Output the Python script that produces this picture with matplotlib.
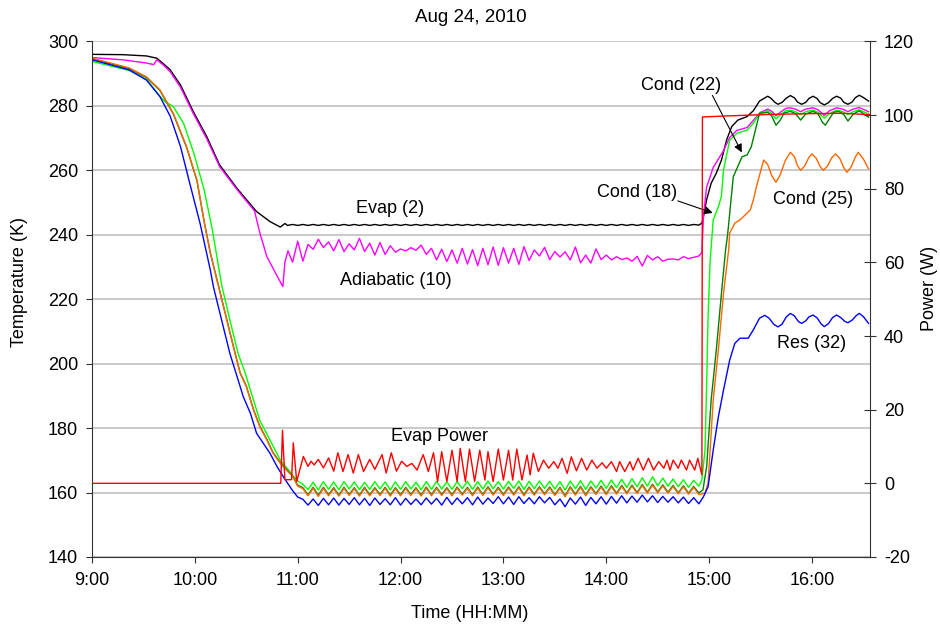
import matplotlib
matplotlib.use('Agg')
import matplotlib.pyplot as plt

plt.rcParams['font.family'] = ['Liberation Sans', 'DejaVu Sans']
plt.rcParams['axes.unicode_minus'] = False

# time in decimal hours, temperatures in K, power in W
plateau_t = [
    10.95, 11.00, 11.05, 11.10, 11.15, 11.20, 11.25, 11.30, 11.35, 11.40,
    11.45, 11.50, 11.55, 11.60, 11.65, 11.70, 11.75, 11.80, 11.85, 11.90,
    11.95, 12.00, 12.05, 12.10, 12.15, 12.20, 12.25, 12.30, 12.35, 12.40,
    12.45, 12.50, 12.55, 12.60, 12.65, 12.70, 12.75, 12.80, 12.85, 12.90,
    12.95, 13.00, 13.05, 13.10, 13.15, 13.20, 13.25, 13.30, 13.35, 13.40,
    13.45, 13.50, 13.55, 13.60, 13.65, 13.70, 13.75, 13.80, 13.85, 13.90,
    13.95, 14.00, 14.05, 14.10, 14.15, 14.20, 14.25, 14.30, 14.35, 14.40,
    14.45, 14.50, 14.55, 14.60, 14.65, 14.70, 14.75, 14.80, 14.85, 14.90]

# Evap (2)
evap_t_pre = [9.00, 9.30, 9.53, 9.63, 9.69, 9.76, 9.86, 9.985, 10.115, 10.24,
              10.41, 10.60, 10.73, 10.83, 10.876, 10.90]
evap_pre = [296.0, 295.9, 295.5, 294.8, 293.2, 291.2, 286.5, 278.2, 270.5, 261.7,
            254.4, 247.2, 244.1, 242.4, 243.5, 242.9]
evap_mid = [
    243.2, 242.9, 243.2, 242.9, 243.2, 242.9, 243.2, 242.9, 243.2, 242.9,
    243.2, 242.9, 243.2, 242.9, 243.2, 242.9, 243.2, 242.9, 243.2, 242.9,
    243.2, 242.9, 243.2, 242.9, 243.2, 242.9, 243.2, 242.9, 243.2, 242.9,
    243.2, 242.9, 243.2, 242.9, 243.2, 242.9, 243.2, 242.9, 243.2, 242.9,
    243.2, 242.9, 243.2, 242.9, 243.2, 242.9, 243.2, 242.9, 243.2, 242.9,
    243.2, 242.9, 243.2, 242.9, 243.2, 242.9, 243.2, 242.9, 243.2, 242.9,
    243.2, 242.9, 243.2, 242.9, 243.2, 242.9, 243.2, 242.9, 243.2, 242.9,
    243.2, 242.9, 243.2, 242.9, 243.2, 242.9, 243.2, 242.9, 243.2, 243.0]
evap_t_post = [14.93, 14.945, 14.975, 15.02, 15.07, 15.12, 15.17, 15.22, 15.28, 15.37,
               15.43, 15.49, 15.57, 15.60, 15.64, 15.67, 15.71, 15.75, 15.79, 15.83,
               15.86, 15.90, 15.94, 15.97, 16.01, 16.05, 16.08, 16.12, 16.16, 16.20,
               16.24, 16.28, 16.31, 16.35, 16.39, 16.42, 16.46, 16.50, 16.55]
evap_post = [243.6, 245.6, 250.8, 256.0, 259.1, 263.2, 269.4, 273.6, 275.6, 276.7,
             278.5, 281.5, 283.0, 282.4, 281.1, 280.5, 281.1, 282.4, 283.2, 282.5,
             281.2, 280.5, 281.1, 282.3, 283.0, 282.3, 281.0, 280.3, 281.0, 282.3,
             283.0, 282.4, 281.1, 280.5, 281.2, 282.5, 283.3, 282.6, 281.5]

# Adiabatic (10)
adia_t_pre = [9.00, 9.30, 9.53, 9.60, 9.63, 9.69, 9.76, 9.86, 9.985, 10.115,
              10.24, 10.41, 10.58, 10.63, 10.70, 10.855, 10.876, 10.905]
adia_pre = [295.0, 294.3, 293.3, 292.8, 294.3, 292.8, 290.6, 285.8, 277.6, 269.8,
            261.2, 254.0, 247.4, 240.8, 233.2, 223.9, 231.6, 235.0]
adia_mid = [
    231.5, 238.0, 231.8, 237.0, 235.5, 238.6, 236.0, 237.8, 235.0, 238.5,
    234.8, 237.2, 235.3, 238.9, 234.8, 237.4, 233.7, 237.6, 233.9, 236.6,
    234.6, 235.6, 235.0, 236.0, 235.2, 236.8, 233.9, 235.8, 232.2, 235.5,
    231.7, 235.3, 231.2, 235.8, 230.9, 235.4, 230.4, 235.8, 230.7, 236.2,
    230.5, 236.0, 231.2, 235.8, 230.8, 236.3, 232.0, 235.3, 233.4, 236.1,
    232.3, 234.8, 233.1, 234.7, 232.2, 236.2, 231.3, 233.7, 231.2, 235.6,
    232.3, 233.7, 232.2, 233.2, 232.3, 232.8, 231.8, 233.3, 230.3, 233.6,
    232.2, 233.2, 231.8, 232.4, 232.5, 232.2, 233.2, 232.6, 233.0, 233.4]
adia_t_post = [14.93, 14.945, 14.975, 15.04, 15.14, 15.20, 15.27, 15.37, 15.43, 15.50,
               15.57, 15.61, 15.65, 15.70, 15.75, 15.79, 15.84, 15.89, 15.94, 16.01,
               16.06, 16.12, 16.17, 16.24, 16.30, 16.35, 16.40, 16.46, 16.55]
adia_post = [234.5, 245.6, 254.7, 260.9, 266.1, 270.2, 272.4, 273.3, 275.5, 278.0,
             279.0, 278.3, 276.9, 278.2, 279.3, 279.4, 279.0, 278.2, 279.0, 279.4,
             278.8, 277.0, 278.5, 279.4, 279.0, 278.2, 279.0, 279.5, 278.2]

# Cond (18)
c18_t_pre = [9.00, 9.36, 9.53, 9.66, 9.71, 9.79, 9.89, 9.99, 10.09, 10.17,
             10.26, 10.34, 10.42, 10.49, 10.55, 10.63, 10.73, 10.83, 10.92]
c18_pre = [293.8, 291.0, 288.3, 283.0, 281.3, 279.8, 274.6, 265.3, 254.0, 241.5,
           224.5, 213.6, 203.2, 197.0, 190.8, 182.5, 176.3, 170.1, 166.6]
c18_mid = [
    165.3, 163.6, 162.6, 160.9, 163.2, 160.8, 163.4, 161.0, 163.3, 160.9,
    163.4, 161.1, 163.3, 160.9, 163.2, 161.0, 163.4, 161.1, 163.3, 160.8,
    163.3, 161.0, 163.4, 161.1, 163.2, 160.9, 163.4, 161.0, 163.5, 161.1,
    163.3, 161.0, 163.4, 161.2, 163.5, 161.0, 163.4, 161.1, 163.6, 161.2,
    163.4, 161.1, 163.5, 161.3, 163.6, 161.0, 163.5, 161.2, 163.6, 161.3,
    163.5, 161.1, 163.4, 160.8, 163.6, 161.2, 163.7, 161.0, 163.6, 161.4,
    163.8, 161.3, 163.9, 161.5, 164.1, 161.6, 164.3, 161.8, 164.6, 162.0,
    164.9, 162.1, 164.5, 162.0, 164.2, 161.8, 164.0, 161.6, 163.8, 162.0]
c18_t_post = [14.93, 14.96, 14.976, 14.99, 15.01, 15.04, 15.09, 15.12, 15.14, 15.20,
              15.27, 15.37, 15.43, 15.49, 15.57, 15.61, 15.65, 15.70, 15.75, 15.79,
              15.84, 15.89, 15.94, 16.01, 16.06, 16.12, 16.17, 16.24, 16.30, 16.35,
              16.40, 16.46, 16.55]
c18_post = [163.9, 173.2, 193.9, 214.6, 232.0, 244.6, 248.7, 252.0, 260.1, 269.4,
            271.5, 272.5, 274.6, 277.7, 278.5, 277.6, 276.0, 277.4, 278.6, 278.7,
            278.2, 277.3, 278.2, 278.7, 278.0, 276.2, 277.6, 278.7, 278.2, 277.3,
            278.2, 278.8, 277.5]

# Cond (22) and Cond (25) share the descent times
c2x_t_pre = [9.00, 9.36, 9.53, 9.66, 9.79, 9.92, 10.02, 10.09, 10.15, 10.23,
             10.31, 10.39, 10.44, 10.50, 10.57, 10.63, 10.70, 10.76, 10.83, 10.89]
c22_pre = [294.6, 291.6, 288.8, 284.8, 277.5, 267.1, 256.8, 244.2, 234.5, 224.1,
           213.8, 203.4, 197.2, 193.1, 185.8, 180.7, 176.5, 172.4, 169.3, 167.2]
c22_mid = [
    165.2, 162.3, 161.5, 159.3, 161.6, 159.2, 161.6, 159.3, 161.5, 159.2,
    161.6, 159.4, 161.5, 159.2, 161.6, 159.3, 161.5, 159.4, 161.6, 159.2,
    161.5, 159.3, 161.6, 159.4, 161.5, 159.2, 161.7, 159.3, 161.6, 159.4,
    161.5, 159.3, 161.7, 159.5, 161.6, 159.3, 161.7, 159.4, 161.8, 159.5,
    161.6, 159.4, 161.7, 159.5, 161.8, 159.3, 161.7, 159.5, 161.8, 159.6,
    161.7, 159.4, 161.6, 159.0, 161.8, 159.5, 161.9, 159.3, 161.8, 159.7,
    162.0, 159.6, 162.1, 159.8, 162.2, 159.9, 162.3, 160.0, 162.5, 160.1,
    162.6, 160.2, 162.4, 160.1, 162.2, 159.9, 162.1, 159.8, 161.9, 159.9]
c22_t_post = [14.94, 14.976, 15.02, 15.07, 15.12, 15.16, 15.18, 15.235, 15.32, 15.37,
              15.41, 15.45, 15.49, 15.57, 15.61, 15.65, 15.69, 15.73, 15.79, 15.84,
              15.89, 15.94, 16.01, 16.06, 16.10, 16.13, 16.17, 16.21, 16.26, 16.31,
              16.35, 16.40, 16.46, 16.55]
c22_post = [160.8, 168.0, 188.7, 204.3, 221.8, 235.3, 240.0, 258.0, 264.2, 264.8,
            267.3, 272.5, 277.7, 278.0, 276.8, 274.0, 275.5, 277.8, 278.3, 277.6,
            275.6, 277.5, 278.3, 277.5, 275.0, 274.0, 276.0, 278.0, 278.3, 277.3,
            275.3, 277.4, 278.5, 276.5]

c25_pre = [294.8, 291.8, 289.0, 285.0, 277.7, 267.3, 257.0, 244.0, 234.3, 223.9,
           213.6, 203.2, 197.0, 192.9, 185.6, 180.5, 176.3, 172.2, 169.1, 167.0]
c25_mid = [
    165.0, 162.0, 161.2, 159.0, 161.3, 158.8, 161.3, 159.0, 161.2, 158.9,
    161.3, 159.1, 161.2, 158.9, 161.3, 159.0, 161.2, 159.1, 161.3, 158.9,
    161.2, 159.0, 161.3, 159.1, 161.2, 158.9, 161.4, 159.0, 161.3, 159.1,
    161.2, 159.0, 161.4, 159.2, 161.3, 159.0, 161.4, 159.1, 161.5, 159.2,
    161.3, 159.1, 161.4, 159.2, 161.5, 159.0, 161.4, 159.2, 161.5, 159.3,
    161.4, 159.1, 161.3, 158.7, 161.5, 159.2, 161.6, 159.0, 161.5, 159.4,
    161.7, 159.3, 161.8, 159.5, 161.9, 159.6, 162.0, 159.7, 162.2, 159.8,
    162.3, 159.9, 162.1, 159.8, 161.9, 159.6, 161.8, 159.5, 161.6, 159.4]
c25_t_post = [14.96, 14.99, 15.01, 15.04, 15.09, 15.14, 15.19, 15.20, 15.25, 15.30,
              15.40, 15.43, 15.46, 15.53, 15.57, 15.61, 15.65, 15.69, 15.74, 15.79,
              15.83, 15.86, 15.89, 15.93, 15.97, 16.00, 16.04, 16.08, 16.11, 16.15,
              16.19, 16.23, 16.27, 16.31, 16.34, 16.38, 16.42, 16.45, 16.50, 16.55]
c25_post = [159.8, 162.9, 173.2, 188.7, 204.3, 221.8, 235.3, 240.5, 243.6, 244.6,
            247.7, 250.8, 254.9, 263.2, 261.8, 258.3, 256.3, 258.5, 263.0, 265.6,
            264.2, 261.4, 260.0, 261.4, 264.0, 265.1, 263.8, 261.2, 260.0, 261.3,
            263.8, 265.1, 263.7, 260.8, 259.4, 261.0, 264.0, 265.6, 263.5, 260.5]

# Res (32)
res_t_pre = [9.00, 9.36, 9.53, 9.66, 9.76, 9.86, 9.95, 10.05, 10.15, 10.18,
             10.26, 10.34, 10.39, 10.42, 10.47, 10.54, 10.60, 10.665, 10.73, 10.80,
             10.86, 10.925]
res_pre = [294.3, 291.2, 288.0, 282.9, 276.8, 267.4, 256.0, 243.6, 229.1, 223.9,
           213.6, 203.2, 198.1, 195.0, 189.8, 184.6, 178.4, 175.3, 172.2, 168.0,
           164.9, 161.8]
res_mid = [
    160.6, 158.6, 157.9, 156.1, 158.0, 156.0, 158.2, 156.2, 158.3, 156.1,
    158.2, 156.3, 158.4, 156.2, 158.2, 156.0, 158.3, 156.3, 158.1, 156.2,
    158.4, 156.1, 158.2, 156.3, 158.0, 156.2, 158.3, 156.4, 158.2, 156.1,
    158.5, 156.3, 158.3, 156.5, 158.4, 156.2, 158.6, 156.4, 158.3, 156.6,
    158.7, 156.5, 158.6, 156.3, 158.7, 156.6, 158.4, 156.5, 158.7, 156.8,
    158.5, 156.2, 158.0, 155.6, 158.3, 156.4, 158.6, 156.0, 158.5, 156.5,
    158.7, 156.4, 158.8, 156.7, 159.0, 156.8, 158.9, 157.0, 159.2, 157.1,
    159.0, 156.9, 158.8, 157.0, 158.7, 156.8, 158.6, 156.6, 158.4, 156.5]
res_t_post = [14.945, 14.99, 15.04, 15.09, 15.14, 15.20, 15.25, 15.30, 15.38, 15.43,
              15.49, 15.54, 15.58, 15.63, 15.67, 15.71, 15.75, 15.79, 15.83, 15.87,
              15.90, 15.94, 15.97, 16.01, 16.05, 16.09, 16.12, 16.16, 16.20, 16.24,
              16.28, 16.32, 16.35, 16.39, 16.43, 16.46, 16.50, 16.55]
res_post = [158.7, 161.8, 173.2, 183.5, 191.8, 201.1, 206.3, 207.9, 207.9, 210.5,
            214.1, 215.0, 214.2, 212.2, 211.4, 212.3, 214.5, 215.6, 214.8, 213.0,
            212.5, 213.3, 214.5, 215.1, 214.2, 212.3, 211.5, 212.4, 214.3, 215.1,
            214.3, 213.1, 212.7, 213.5, 214.9, 215.6, 214.6, 212.5]

# Evap Power (right axis)
power_t = [9.00, 10.835, 10.852, 10.875, 10.94, 10.957, 10.99, 11.055, 11.10, 11.13,
           11.16, 11.20, 11.25, 11.30, 11.35, 11.39, 11.44, 11.49, 11.54, 11.59,
           11.64, 11.70, 11.75, 11.82, 11.86, 11.91, 11.96, 12.01, 12.06, 12.11,
           12.16, 12.22, 12.27, 12.32, 12.36, 12.40, 12.45, 12.50, 12.55, 12.58,
           12.63, 12.67, 12.72, 12.77, 12.82, 12.85, 12.90, 12.95, 13.00, 13.05,
           13.09, 13.13, 13.18, 13.23, 13.26, 13.29, 13.34, 13.39, 13.44, 13.49,
           13.53, 13.57, 13.62, 13.66, 13.71, 13.76, 13.81, 13.86, 13.91, 13.96,
           14.00, 14.05, 14.10, 14.13, 14.18, 14.23, 14.26, 14.31, 14.36, 14.41,
           14.46, 14.51, 14.56, 14.59, 14.62, 14.65, 14.70, 14.73, 14.78, 14.81,
           14.86, 14.89, 14.93, 14.935, 15.20, 15.60, 16.00, 16.30, 16.56]
power_w = [0.0, 0.0, 14.4, 1.0, 1.0, 11.0, 0.5, 7.3, 4.6, 6.0,
           5.0, 6.5, 4.2, 6.9, 3.3, 8.3, 3.2, 7.8, 2.8, 7.8,
           3.2, 6.5, 3.8, 7.8, 2.8, 8.3, 3.3, 6.0, 4.6, 5.4,
           3.6, 7.8, 3.2, 8.3, 0.5, 8.6, 0.5, 9.0, 0.5, 9.5,
           0.5, 9.3, 0.5, 9.0, 0.9, 8.6, 0.5, 9.3, 0.9, 9.0,
           0.9, 9.3, 0.9, 7.7, 2.3, 8.2, 3.2, 6.3, 4.1, 5.9,
           4.1, 6.8, 2.7, 7.2, 3.4, 6.8, 3.6, 6.3, 4.1, 5.6,
           4.1, 5.9, 3.2, 5.9, 3.2, 5.9, 3.6, 6.8, 3.6, 6.8,
           3.6, 5.9, 4.1, 6.3, 3.6, 6.3, 4.1, 6.3, 3.6, 6.3,
           3.6, 6.8, 2.3, 99.5, 99.8, 100.2, 100.4, 100.5, 100.1]

hour_ticks = [9, 10, 11, 12, 13, 14, 15, 16]
hour_labels = ['9:00', '10:00', '11:00', '12:00', '13:00', '14:00', '15:00', '16:00']


def series(t_pre, v_pre, v_mid, t_post, v_post):
    return t_pre + plateau_t + t_post, v_pre + v_mid + v_post


fig = plt.figure(figsize=(9.4, 6.3), dpi=100)
ax = fig.add_axes([0.0979, 0.1159, 0.8277, 0.8183])
ax2 = ax.twinx()

lines = [
    (series(evap_t_pre, evap_pre, evap_mid, evap_t_post, evap_post), '#000000'),
    (series(adia_t_pre, adia_pre, adia_mid, adia_t_post, adia_post), '#ff00ff'),
    (series(c18_t_pre, c18_pre, c18_mid, c18_t_post, c18_post), '#00ff00'),
    (series(c2x_t_pre, c22_pre, c22_mid, c22_t_post, c22_post), '#008000'),
    (series(c2x_t_pre, c25_pre, c25_mid, c25_t_post, c25_post), '#ff6600'),
    (series(res_t_pre, res_pre, res_mid, res_t_post, res_post), '#0000ff'),
]
for (t, v), c in lines:
    ax.plot(t, v, color=c, lw=1.0)

ax2.plot(power_t, power_w, color='#ff0000', lw=1.0)

ax.set_xlim(9, 16.565)
ax.set_ylim(140, 300)
ax2.set_ylim(-20, 120)
ax.set_yticks(range(140, 301, 20))
ax2.set_yticks(range(-20, 121, 20))
ax.set_xticks(hour_ticks)
ax.set_xticklabels(hour_labels)

ax.yaxis.grid(True, color='#c0c0c0', lw=1.2)
ax.set_axisbelow(True)

for sp in ['top', 'right']:
    ax.spines[sp].set_visible(False)
for sp in ['top', 'left', 'bottom']:
    ax2.spines[sp].set_visible(False)
ax.spines['left'].set_color('#333333')
ax.spines['bottom'].set_color('#333333')
ax2.spines['right'].set_color('#333333')

ax.tick_params(axis='y', direction='out', length=4, color='#333333', labelsize=13, pad=6)
ax.tick_params(axis='x', direction='out', length=4, color='#333333', labelsize=13, pad=7)
ax2.tick_params(axis='y', direction='inout', length=8, color='#333333', labelsize=13, pad=6)

ax.text(11.90, 248.3, 'Evap (2)', ha='center', va='center', fontsize=13)
ax.text(11.955, 225.7, 'Adiabatic (10)', ha='center', va='center', fontsize=13)
ax.text(12.38, 177.3, 'Evap Power', ha='center', va='center', fontsize=13)
ax.text(16.01, 251.1, 'Cond (25)', ha='center', va='center', fontsize=13)
ax.text(16.00, 206.4, 'Res (32)', ha='center', va='center', fontsize=13)
ax.text(14.73, 286.2, 'Cond (22)', ha='center', va='center', fontsize=13)
ax.text(14.30, 253.0, 'Cond (18)', ha='center', va='center', fontsize=13)

arrow = dict(arrowstyle='-|>', color='black', lw=0.8, mutation_scale=12)
ax.annotate('', xy=(15.33, 264.8), xytext=(15.02, 284.0), arrowprops=arrow)
ax.annotate('', xy=(15.06, 246.5), xytext=(14.67, 250.8), arrowprops=arrow)

fig.text(0.501, 0.973, 'Aug 24, 2010', ha='center', va='center', fontsize=13.5)
fig.text(20 / 940, 1 - 282 / 630, 'Temperature (K)', rotation=90,
         ha='center', va='center', fontsize=13)
fig.text(930 / 940, 1 - 288 / 630, 'Power (W)', rotation=90,
         ha='center', va='center', fontsize=13)
fig.text(470 / 940, 1 - 613 / 630, 'Time (HH:MM)', ha='center', va='center', fontsize=13)

fig.savefig('out.png', dpi=100)
